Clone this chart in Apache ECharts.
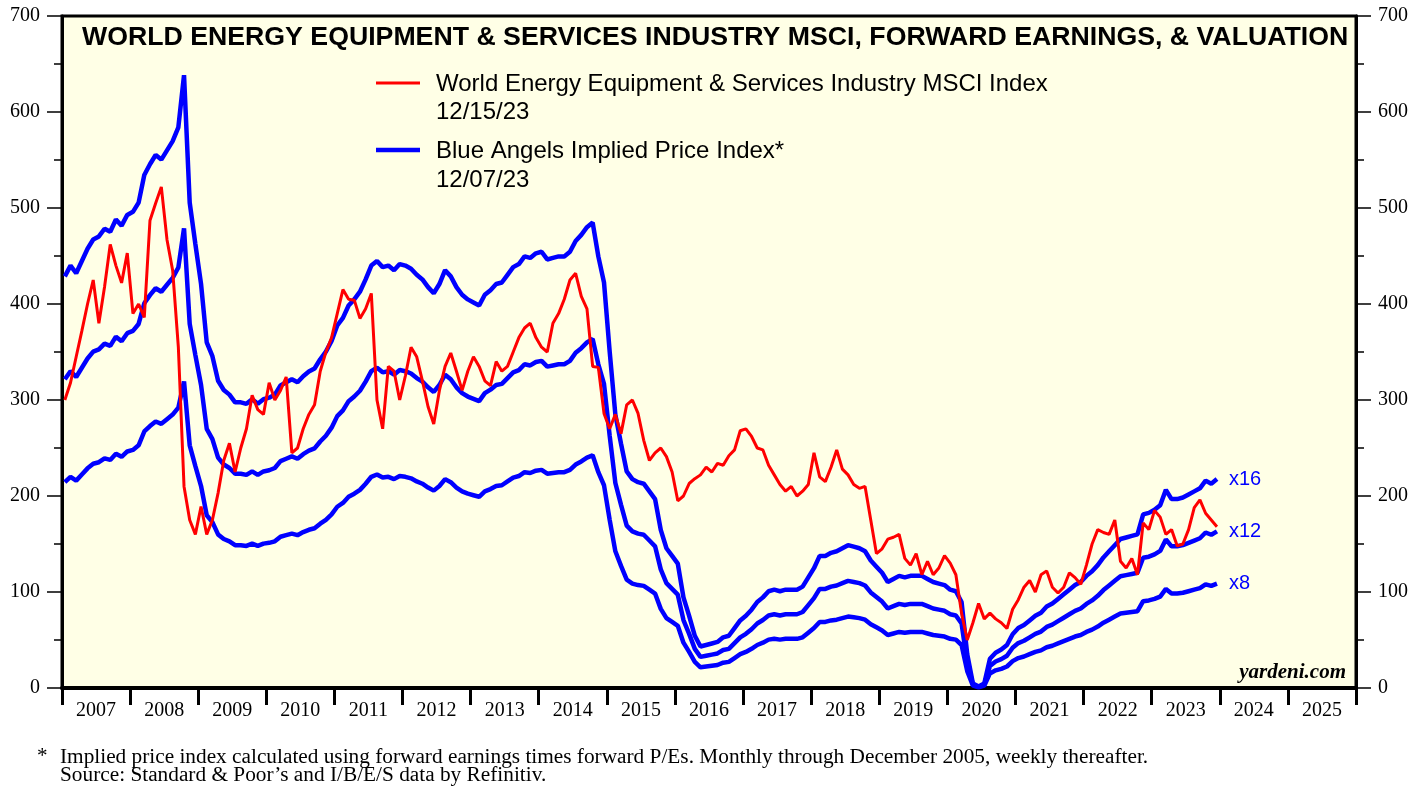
<!DOCTYPE html>
<html>
<head>
<meta charset="utf-8">
<script src="https://cdn.jsdelivr.net/npm/echarts@6/dist/echarts.min.js"></script>
</head>
<body style="margin:0;background:#fff">
<div id="container" style="width:1427px;height:789px"></div>
<script>
// monthly readings, Jan 2007 .. Dec 2023
var startYear = 2007;
var years = ['2007', '2008', '2009', '2010', '2011', '2012', '2013', '2014', '2015', '2016',
  '2017', '2018', '2019', '2020', '2021', '2022', '2023', '2024', '2025'];

// World Energy Equipment & Services Industry MSCI Index
var msciIndex = [
  300, 318, 345, 372, 400, 425, 380, 418, 462, 440, 422, 453,
  390, 400, 386, 487, 505, 522, 467, 435, 355, 210, 175, 160,
  189, 160, 175, 203, 237, 255, 225, 250, 270, 305, 290, 285,
  318, 300, 310, 324, 245, 250, 270, 285, 295, 330, 350, 365,
  390, 415, 405, 404, 385, 395, 411, 300, 270, 335, 330, 300,
  325, 355, 345, 320, 293, 275, 310, 335, 349, 330, 310, 330,
  345, 335, 320, 315, 340, 330, 335, 350, 365, 375, 380, 365,
  355, 350, 380, 390, 405, 425, 432, 408, 395, 335, 334, 286,
  270, 285, 265, 295, 300, 286, 258, 237, 245, 250, 241, 225,
  195, 200, 213, 218, 222, 230, 225, 234, 232, 242, 248, 268,
  270, 262, 250, 248, 232, 222, 212, 205, 210, 200, 205, 212,
  245, 220, 215, 230, 248, 228, 222, 212, 208, 210, 175, 140,
  145, 155, 157, 160, 135, 128, 140, 118, 132, 118, 125, 138,
  130, 118, 78, 50, 68, 88, 72, 78, 72, 68, 62, 82,
  92, 105, 112, 100, 118, 122, 105, 99, 105, 120, 115, 108,
  128, 150, 165, 162, 160, 175, 132, 125, 135, 118, 172, 165,
  185, 178, 160, 165, 148, 150, 165, 188, 196, 182, 175, 168
];

// forward earnings behind the Blue Angels implied price index
var fwdEarnings = [
  26.8, 27.5, 27.0, 27.8, 28.6, 29.2, 29.4, 29.9, 29.7, 30.5, 30.1, 30.8,
  31.0, 31.6, 33.4, 34.1, 34.7, 34.4, 35.0, 35.6, 36.5, 39.9, 31.6, 28.9,
  26.3, 22.5, 21.6, 20.0, 19.4, 19.1, 18.6, 18.6, 18.5, 18.8, 18.5, 18.8,
  18.9, 19.1, 19.7, 19.9, 20.1, 19.9, 20.3, 20.6, 20.8, 21.4, 21.9, 22.6,
  23.6, 24.1, 24.9, 25.3, 25.8, 26.6, 27.5, 27.8, 27.4, 27.5, 27.2, 27.6,
  27.5, 27.3, 26.9, 26.6, 26.1, 25.7, 26.3, 27.2, 26.8, 26.1, 25.6, 25.3,
  25.1, 24.9, 25.6, 25.9, 26.3, 26.4, 26.9, 27.4, 27.6, 28.1, 28.0, 28.3,
  28.4, 27.9, 28.0, 28.1, 28.1, 28.4, 29.1, 29.5, 30.0, 30.3, 28.1, 26.4,
  21.9, 17.8, 15.9, 14.1, 13.6, 13.4, 13.3, 12.8, 12.3, 10.3, 9.1, 8.6,
  8.1, 5.9, 4.7, 3.4, 2.7, 2.8, 2.9, 3.0, 3.3, 3.4, 3.9, 4.4,
  4.7, 5.1, 5.6, 5.9, 6.3, 6.4, 6.3, 6.4, 6.4, 6.4, 6.6, 7.2,
  7.8, 8.6, 8.6, 8.8, 8.9, 9.1, 9.3, 9.2, 9.1, 8.9, 8.3, 7.9,
  7.5, 6.9, 7.1, 7.3, 7.2, 7.3, 7.3, 7.3, 7.1, 6.9, 6.8, 6.7,
  6.4, 6.3, 5.6, 2.2, 0.3, 0.1, 0.3, 1.9, 2.3, 2.5, 2.8, 3.5,
  3.9, 4.1, 4.4, 4.7, 4.9, 5.3, 5.5, 5.8, 6.1, 6.4, 6.7, 6.9,
  7.3, 7.6, 8.0, 8.5, 8.9, 9.3, 9.7, 9.8, 9.9, 10.0, 11.3, 11.4,
  11.6, 11.9, 12.9, 12.3, 12.3, 12.4, 12.6, 12.8, 13.0, 13.5, 13.3, 13.6
];

var peMultiples = [16, 12, 8];

function monthDate(i) {
  return startYear + (i + 0.5) / 12;
}

var sans = 'Liberation Sans, Arial, sans-serif';
var serif = 'Liberation Serif, Times New Roman, serif';

var series = [];
peMultiples.forEach(function (pe) {
  series.push({
    name: 'x' + pe,
    type: 'line',
    xAxisIndex: 0,
    showSymbol: false,
    symbol: 'none',
    data: fwdEarnings.map(function (e, i) { return [monthDate(i), +(e * pe).toFixed(1)]; }),
    lineStyle: { color: '#0000ff', width: 4.5 },
    endLabel: { show: true, formatter: 'x' + pe, color: '#0000ff', fontSize: 20, fontFamily: sans, distance: 12 }
  });
});
series.push({
  name: 'World Energy Equipment & Services Industry MSCI Index',
  type: 'line',
  xAxisIndex: 0,
  showSymbol: false,
  symbol: 'none',
  data: msciIndex.map(function (v, i) { return [monthDate(i), v]; }),
  lineStyle: { color: '#ff0000', width: 3 }
});

var yAxisBase = {
  type: 'value',
  min: 0,
  max: 700,
  interval: 100,
  axisLine: { show: true, lineStyle: { color: '#000', width: 3 } },
  axisTick: { show: true, length: 15, lineStyle: { color: '#000', width: 1.5 } },
  minorTick: { show: true, splitNumber: 2, length: 8, lineStyle: { color: '#000', width: 1.5 } },
  axisLabel: { color: '#000', fontSize: 20, fontFamily: serif, margin: 22 },
  splitLine: { show: false }
};

var option = {
  animation: false,
  title: {
    text: 'WORLD ENERGY EQUIPMENT & SERVICES INDUSTRY MSCI, FORWARD EARNINGS, & VALUATION',
    left: 77,
    top: 19,
    textStyle: { color: '#000', fontSize: 26.7, fontWeight: 'bold', fontFamily: sans }
  },
  grid: {
    left: 62, right: 71, top: 16, bottom: 101,
    show: true,
    backgroundColor: '#ffffe6',
    borderColor: '#000',
    borderWidth: 3,
    outerBoundsMode: 'none'
  },
  xAxis: [{
    type: 'value',
    min: 2007,
    max: 2026,
    interval: 1,
    position: 'bottom',
    axisLine: { show: true, lineStyle: { color: '#000', width: 4 } },
    axisTick: { show: true, length: 17, lineStyle: { color: '#000', width: 3 } },
    axisLabel: { show: false },
    splitLine: { show: false }
  }, {
    type: 'category',
    data: years,
    position: 'bottom',
    boundaryGap: true,
    axisLine: { show: false },
    axisTick: { show: false },
    axisLabel: { color: '#000', fontSize: 20, fontFamily: serif, margin: 13, interval: 0 },
    splitLine: { show: false }
  }],
  yAxis: [
    Object.assign({}, yAxisBase, { position: 'left' }),
    Object.assign({}, yAxisBase, { position: 'right' })
  ],
  series: series,
  graphic: [
    { type: 'line', shape: { x1: 376, y1: 83, x2: 420, y2: 83 }, style: { stroke: '#ff0000', lineWidth: 3 } },
    { type: 'text', x: 436, y: 84, style: { text: 'World Energy Equipment & Services Industry MSCI Index', fill: '#000', font: '24px ' + sans, verticalAlign: 'middle' } },
    { type: 'text', x: 436, y: 112, style: { text: '12/15/23', fill: '#000', font: '24px ' + sans, verticalAlign: 'middle' } },
    { type: 'line', shape: { x1: 376, y1: 150, x2: 420, y2: 150 }, style: { stroke: '#0000ff', lineWidth: 4.5 } },
    { type: 'text', x: 436, y: 151, style: { text: 'Blue Angels Implied Price Index*', fill: '#000', font: '24px ' + sans, verticalAlign: 'middle' } },
    { type: 'text', x: 436, y: 180, style: { text: '12/07/23', fill: '#000', font: '24px ' + sans, verticalAlign: 'middle' } },
    { type: 'text', x: 1346, y: 673, style: { text: 'yardeni.com', fill: '#000', font: 'italic bold 21px ' + serif, align: 'right', verticalAlign: 'middle' } },
    { type: 'text', x: 37, y: 756, style: { text: '*', fill: '#000', font: '21px ' + serif, verticalAlign: 'middle' } },
    { type: 'text', x: 60, y: 757, style: { text: 'Implied price index calculated using forward earnings times forward P/Es. Monthly through December 2005, weekly thereafter.', fill: '#000', font: '21.3px ' + serif, verticalAlign: 'middle' } },
    { type: 'text', x: 60, y: 775, style: { text: 'Source: Standard & Poor\u2019s and I/B/E/S data by Refinitiv.', fill: '#000', font: '21.3px ' + serif, verticalAlign: 'middle' } }
  ]
};

var chart = echarts.init(document.getElementById('container'));
chart.setOption(option);
</script>
</body>
</html>
